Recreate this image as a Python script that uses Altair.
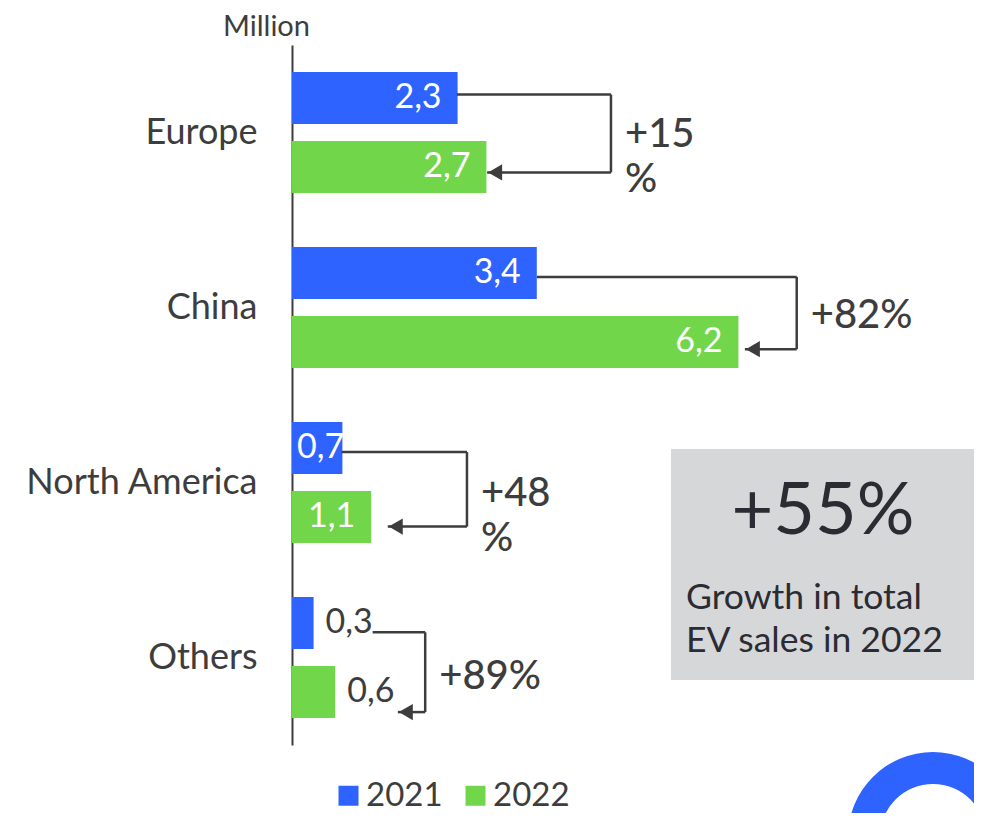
import altair as alt
import pandas as pd

# ---------------- data ----------------
regions = ["Europe", "China", "North America", "Others"]
years = ["2021", "2022"]
sales_2021 = [2.3, 3.4, 0.7, 0.3]
sales_2022 = [2.7, 6.2, 1.1, 0.6]
growth_labels = ["+15\n%", "+82%", "+48\n%", "+89%"]
# growth connector anchors (in million units along the value axis)
conn_start = [2.29, 3.40, 0.69, 1.12]
conn_turn = [4.43, 7.01, 2.43, 1.85]
conn_tip = [2.71, 6.29, 1.33, 1.47]
total_growth = ["+55%"]
box_lines = ["Growth in total", "EV sales in 2022"]
unit_label = "Million"

# ---------------- style ----------------
FONT = "Lato"
BLUE = "#2F63FF"
GREEN = "#72D64B"
DARK = "#3d3d3d"
BOX = "#D6D7D9"
BOXTEXT = "#2B2B33"
W, H = 648, 700
# vertical placement of connectors / growth text within each region's band
TOP_BP = [0.283, 0.325, 0.326, 0.356]
BOT_BP = [0.728, 0.738, 0.752, 0.812]
TXT_BP = [0.515, 0.55, 0.566, 0.61]

rows = []
for r, a, b in zip(regions, sales_2021, sales_2022):
    for y, v in zip(years, [a, b]):
        rows.append({"region": r, "year": y, "value": v,
                     "label": f"{v:.1f}".replace(".", ",")})
bars_df = pd.DataFrame(rows)

conn_df = pd.DataFrame({"region": regions, "start": conn_start, "turn": conn_turn,
                        "tip": conn_tip, "growth": growth_labels})

xscale = alt.Scale(domain=[0, 9], nice=False, zero=True)
yscale = alt.Scale(paddingInner=0, paddingOuter=0)
yoff = alt.YOffset("year:N", scale=alt.Scale(paddingInner=0.246, paddingOuter=0.391))

y_axis = alt.Axis(title=unit_label, titleAngle=0, titleX=-26, titleY=-19, titleAlign="center",
                  titleBaseline="middle", titleFontSize=29, titleFontWeight="normal",
                  titleColor=DARK, titleFont=FONT, labelFont=FONT, labelFontSize=36,
                  labelColor=DARK, labelPadding=35, labelLimit=0, ticks=False,
                  domainColor=DARK, domainWidth=2, grid=False)

base = alt.Chart(bars_df)

bars = base.mark_bar().encode(
    y=alt.Y("region:N", sort=regions, scale=yscale, axis=y_axis),
    yOffset=yoff,
    x=alt.X("value:Q", scale=xscale, axis=None),
    color=alt.Color("year:N", scale=alt.Scale(domain=years, range=[BLUE, GREEN]),
                    legend=alt.Legend(title=None, orient="none", legendX=40, legendY=734,
                                      direction="horizontal", symbolType="square",
                                      symbolSize=400, symbolStrokeWidth=0,
                                      labelFontSize=33, labelColor=DARK, labelFont=FONT,
                                      labelOffset=1, columnPadding=16, padding=0)),
)

ytxt = alt.Y("region:N", sort=regions)

lab_in = base.transform_filter("datum.value >= 1").mark_text(
    align="right", baseline="middle", dx=-16, fontSize=34, font=FONT, color="white"
).encode(y=ytxt, yOffset=yoff, x=alt.X("value:Q"), text="label:N")

lab_mid = base.transform_filter("datum.value >= 0.65 && datum.value < 1").mark_text(
    align="left", baseline="middle", dx=5, fontSize=34, font=FONT, color="white"
).encode(y=ytxt, yOffset=yoff, x=alt.datum(0), text="label:N")

lab_out = base.transform_filter("datum.value < 0.65").mark_text(
    align="left", baseline="middle", dx=12, fontSize=34, font=FONT, color=DARK
).encode(y=ytxt, yOffset=yoff, x=alt.X("value:Q"), text="label:N")

conn_layers = []
for reg, tb, bb, gb in zip(regions, TOP_BP, BOT_BP, TXT_BP):
    cb = alt.Chart(conn_df).transform_filter(alt.datum.region == reg)
    yt = alt.Y("region:N", sort=regions, bandPosition=tb)
    yb = alt.Y("region:N", sort=regions, bandPosition=bb)
    conn_layers += [
        cb.mark_rule(color=DARK, strokeWidth=2.5).encode(x="start:Q", x2="turn:Q", y=yt),
        cb.mark_rule(color=DARK, strokeWidth=2.5).encode(
            x="turn:Q", y=yt, y2=alt.Y2(field="region", bandPosition=bb)),
        cb.mark_rule(color=DARK, strokeWidth=2.5).encode(x="tip:Q", x2="turn:Q", y=yb),
        cb.mark_point(shape="triangle-left", filled=True, size=260, xOffset=8,
                      color=DARK, opacity=1, strokeWidth=0).encode(x="tip:Q", y=yb),
        cb.mark_text(align="left", baseline="middle", dx=14, fontSize=40,
                     fontWeight=500, font=FONT, color=DARK, lineBreak="\n",
                     lineHeight=45).encode(
            x="turn:Q", y=alt.Y("region:N", sort=regions, bandPosition=gb),
            text="growth:N"),
    ]

# summary box
box_df = pd.DataFrame({"big": total_growth, "small": ["\n".join(box_lines)]})
box = alt.Chart(box_df).mark_rect(color=BOX).encode(
    x=alt.value(379), x2=alt.value(690), y=alt.value(404), y2=alt.value(635))
big = alt.Chart(box_df).mark_text(align="center", baseline="middle", fontSize=72,
                                  font=FONT, color=BOXTEXT).encode(
    x=alt.value(531), y=alt.value(467), text="big:N")
small = alt.Chart(box_df).mark_text(align="left", baseline="middle", fontSize=35.5,
                                    font=FONT, color=BOXTEXT, lineBreak="\n",
                                    lineHeight=43).encode(
    x=alt.value(394), y=alt.value(553), text="small:N")

# decorative logo ring (bottom right)
ring = alt.Chart(box_df).mark_arc(theta=0, theta2=6.2832, radius=85, radius2=53,
                                  color=BLUE).encode(x=alt.value(641), y=alt.value(792))

chart = alt.layer(box, big, small, ring, bars, lab_in, lab_mid, lab_out,
                  *conn_layers).properties(
    width=W, height=H,
    autosize=alt.AutoSizeParams(type="none"),
    padding={"left": 284, "top": 37, "right": 34, "bottom": 68},
).configure_view(stroke=None)

chart.save("out.html", embed_options={"renderer": "svg", "actions": False})
